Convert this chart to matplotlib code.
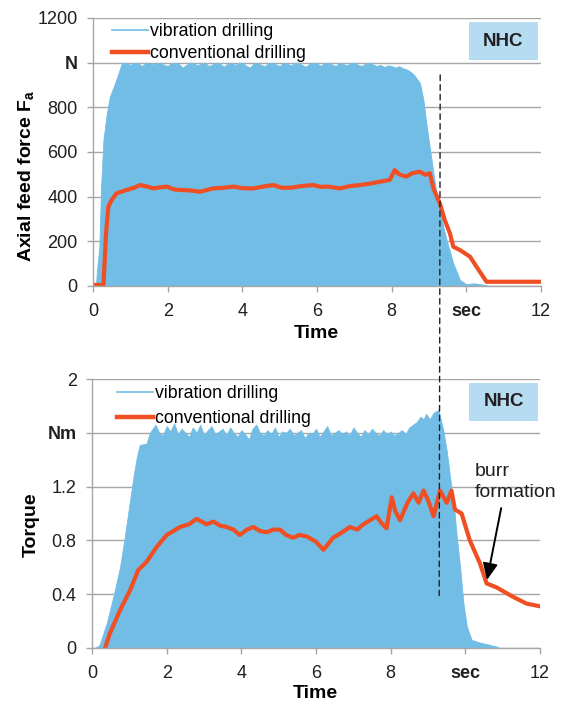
import matplotlib
matplotlib.use("Agg")
import matplotlib.pyplot as plt
from matplotlib.lines import Line2D
from matplotlib.patches import ConnectionPatch, Rectangle

plt.rcParams['font.family'] = ['Liberation Sans', 'DejaVu Sans']
plt.rcParams['mathtext.fontset'] = 'custom'
plt.rcParams['mathtext.rm'] = 'Liberation Sans'
plt.rcParams['mathtext.bf'] = 'Liberation Sans:bold'

# ---------------- data ----------------
# Axial feed force - vibration drilling (upper envelope of oscillating signal)
force_vib_rise_t = [0.0, 0.08, 0.1, 0.17, 0.215, 0.28, 0.37, 0.45, 0.59, 0.68, 0.77]
force_vib_rise = [0, 0, 57, 176, 437, 654, 773, 848, 908, 952, 997]
# plateau sampled every 0.1 s from 0.8 s to 8.6 s
force_vib_plateau = [995, 1000, 990, 998, 1000, 985, 996, 1000, 992, 998,
                     1000, 990, 985, 998, 1000, 994, 978, 990, 1000, 996,
                     988, 998, 1000, 985, 992, 1000, 996, 982, 994, 1000,
                     990, 998, 1000, 986, 978, 995, 1000, 990, 984, 998,
                     1000, 992, 985, 1000, 996, 988, 998, 1000, 990, 982,
                     995, 1000, 996, 986, 998, 1000, 992, 985, 1000, 994,
                     988, 998, 1000, 990, 985, 996, 1000, 992, 985, 990,
                     980, 988, 985, 978, 984, 975, 970, 960, 945]
force_vib_fall_t = [8.76, 8.85, 8.94, 9.03, 9.12, 9.2, 9.29, 9.38, 9.47, 9.65,
                    9.83, 10.0, 10.2, 10.5, 10.6]
force_vib_fall = [908, 833, 713, 609, 505, 415, 355, 266, 206, 102,
                  27, 8, 12, 5, 0]

# Axial feed force - conventional drilling
force_conv_t = [0.0, 0.28, 0.35, 0.41, 0.5, 0.63, 0.9, 1.1, 1.26, 1.45, 1.62,
                1.8, 1.98, 2.15, 2.33, 2.6, 2.87, 3.05, 3.22, 3.5, 3.77, 4.0,
                4.3, 4.55, 4.83, 5.05, 5.3, 5.6, 5.9, 6.1, 6.3, 6.61, 6.9,
                7.15, 7.4, 7.68, 7.95, 8.08, 8.2, 8.39, 8.55, 8.75, 8.9, 9.02,
                9.12, 9.29, 9.42, 9.56, 9.65, 9.83, 10.1, 10.27, 10.54, 11.25,
                12.0]
force_conv = [5, 5, 236, 355, 385, 415, 430, 440, 452, 445, 437,
              442, 445, 433, 430, 428, 422, 430, 437, 440, 445, 438,
              437, 445, 452, 440, 440, 448, 452, 444, 445, 437, 448,
              452, 458, 467, 475, 519, 500, 490, 505, 512, 498, 505,
              437, 370, 296, 236, 176, 161, 131, 87, 19, 19, 19]

# Torque - vibration drilling (upper envelope)
torque_vib_rise_t = [0.0, 0.08, 0.2, 0.39, 0.57, 0.75, 0.88, 1.02, 1.11, 1.2,
                     1.28, 1.46, 1.55]
torque_vib_rise = [0, 0, 0.022, 0.18, 0.38, 0.6, 0.83, 1.1, 1.27, 1.42,
                   1.51, 1.52, 1.6]
# plateau sampled every 0.1 s from 1.6 s to 8.6 s
torque_vib_plateau = [1.62, 1.66, 1.60, 1.58, 1.65, 1.61, 1.67, 1.59, 1.63, 1.60,
                      1.57, 1.64, 1.60, 1.66, 1.58, 1.62, 1.65, 1.59, 1.61, 1.63,
                      1.58, 1.64, 1.60, 1.57, 1.62, 1.59, 1.55, 1.63, 1.66, 1.60,
                      1.58, 1.62, 1.59, 1.64, 1.57, 1.61, 1.60, 1.63, 1.58, 1.60,
                      1.62, 1.56, 1.60, 1.59, 1.63, 1.57, 1.61, 1.65, 1.58, 1.60,
                      1.62, 1.59, 1.61, 1.58, 1.64, 1.60, 1.57, 1.62, 1.59, 1.63,
                      1.60, 1.58, 1.62, 1.59, 1.61, 1.58, 1.60, 1.62, 1.59, 1.64,
                      1.66]
torque_vib_fall_t = [8.7, 8.8, 8.88, 8.95, 9.05, 9.15, 9.28, 9.41, 9.5, 9.59,
                     9.68, 9.77, 9.86, 9.95, 10.04, 10.17, 10.4, 10.85, 10.9]
torque_vib_fall = [1.68, 1.72, 1.70, 1.74, 1.70, 1.75, 1.77, 1.62, 1.47, 1.27,
                   1.10, 0.83, 0.60, 0.33, 0.16, 0.06, 0.04, 0.01, 0.0]

# Torque - conventional drilling
torque_conv_t = [0.35, 0.48, 0.75, 1.02, 1.24, 1.46, 1.73, 2.0, 2.36, 2.6, 2.8,
                 3.07, 3.25, 3.43, 3.6, 3.79, 3.96, 4.15, 4.32, 4.5, 4.68, 4.85,
                 5.04, 5.2, 5.39, 5.55, 5.75, 6.0, 6.2, 6.46, 6.7, 6.91, 7.1,
                 7.27, 7.45, 7.62, 7.75, 7.89, 8.03, 8.12, 8.25, 8.45, 8.61,
                 8.75, 8.88, 9.0, 9.15, 9.32, 9.5, 9.63, 9.72, 9.9, 10.12,
                 10.39, 10.57, 10.84, 11.28, 11.64, 12.0]
torque_conv = [0.0, 0.11, 0.28, 0.43, 0.58, 0.64, 0.75, 0.84, 0.9, 0.92, 0.96,
               0.92, 0.94, 0.91, 0.9, 0.88, 0.84, 0.88, 0.9, 0.87, 0.86, 0.88,
               0.88, 0.84, 0.82, 0.84, 0.83, 0.79, 0.73, 0.82, 0.86, 0.9, 0.88,
               0.92, 0.95, 0.98, 0.93, 0.89, 1.12, 1.02, 0.95, 1.08, 1.15,
               1.08, 1.17, 1.1, 0.98, 1.17, 1.08, 1.17, 1.03, 1.0, 0.8,
               0.63, 0.48, 0.45, 0.38, 0.33, 0.31]

x_ticks = [0, 2, 4, 6, 8, 10, 12]
x_ticklabels = ['0', '2', '4', '6', '8', 'sec', '12']
force_ticks = [0, 200, 400, 600, 800, 1000, 1200]
force_ticklabels = ['0', '200', '400', '600', '800', 'N', '1200']
torque_ticks = [0, 0.4, 0.8, 1.2, 1.6, 2.0]
torque_ticklabels = ['0', '0.4', '0.8', '1.2', 'Nm', '2']
legend_labels = ['vibration drilling', 'conventional drilling']

# assemble envelopes
force_vib_t = force_vib_rise_t + [round(0.8 + 0.1 * i, 2) for i in range(len(force_vib_plateau))] + force_vib_fall_t
force_vib_hi = force_vib_rise + force_vib_plateau + force_vib_fall
torque_vib_t = torque_vib_rise_t + [round(1.6 + 0.1 * i, 2) for i in range(len(torque_vib_plateau))] + torque_vib_fall_t
torque_vib_hi = torque_vib_rise + torque_vib_plateau + torque_vib_fall

BLUE = '#72BDE5'
ORANGE = '#F04E23'
GRID = '#A6A6A6'
BOXC = '#B6DCF1'
TXT = '#231f20'

fig = plt.figure(figsize=(5.66, 7.02), dpi=100)
ax1 = fig.add_axes([93/566, 1-286/702, 448/566, 268/702])
ax2 = fig.add_axes([92/566, 1-648/702, 448/566, 269/702])


def style(ax, yticks, ylabels, ylim, boldlabel):
    ax.set_xlim(0, 12)
    ax.set_ylim(*ylim)
    ax.set_xticks(x_ticks)
    ax.set_xticklabels(x_ticklabels)
    ax.set_yticks(yticks)
    ax.set_yticklabels(ylabels)
    for lab in ax.get_xticklabels():
        if lab.get_text() == 'sec':
            lab.set_fontweight('bold')
    for lab in ax.get_yticklabels():
        if lab.get_text() == boldlabel:
            lab.set_fontweight('bold')
    ax.tick_params(axis='both', labelsize=13, colors=GRID, labelcolor=TXT,
                   length=4.5, width=1)
    ax.tick_params(axis='x', pad=7.5)
    ax.tick_params(axis='y', pad=6.5)
    ax.grid(axis='y', color=GRID, lw=1)
    ax.set_axisbelow(True)
    for s in ['top', 'right']:
        ax.spines[s].set_visible(False)
    for s in ['left', 'bottom']:
        ax.spines[s].set_color(GRID)
        ax.spines[s].set_linewidth(1)


# Top panel
ax1.fill_between(force_vib_t, 0, force_vib_hi, color=BLUE, lw=0.6, edgecolor=BLUE)
ax1.plot(force_conv_t, force_conv, color=ORANGE, lw=3, solid_joinstyle='round')
style(ax1, force_ticks, force_ticklabels, (0, 1200), 'N')
ax1.set_ylabel(r'Axial feed force $\mathbf{F_a}$', fontsize=14, fontweight='bold')
ax1.yaxis.set_label_coords(-0.127, 0.41)
ax1.set_xlabel('Time', fontsize=14, fontweight='bold')
ax1.xaxis.set_label_coords(0.498, -0.146)

# Bottom panel
ax2.fill_between(torque_vib_t, 0, torque_vib_hi, color=BLUE, lw=0.6, edgecolor=BLUE)
ax2.plot(torque_conv_t, torque_conv, color=ORANGE, lw=3, solid_joinstyle='round')
style(ax2, torque_ticks, torque_ticklabels, (0, 2), 'Nm')
ax2.set_ylabel('Torque', fontsize=14, fontweight='bold')
ax2.yaxis.set_label_coords(-0.116, 0.46)
ax2.set_xlabel('Time', fontsize=14, fontweight='bold')
ax2.xaxis.set_label_coords(0.498, -0.138)

handles = [Line2D([], [], color=BLUE, lw=1.2), Line2D([], [], color=ORANGE, lw=3.2)]
for ax, x0, y0, sp in ((ax1, 0.043, 0.982, 0.30), (ax2, 0.056, 0.978, 0.48)):
    ax.legend(handles, legend_labels, loc='upper left', bbox_to_anchor=(x0, y0),
              frameon=False, fontsize=12.8, handlelength=2.0, handletextpad=0.15,
              labelspacing=sp, borderaxespad=0, borderpad=0)

# NHC boxes
for ax, (x0, x1, y0, y1) in ((ax1, (0.839, 0.993, 0.843, 0.985)),
                             (ax2, (0.842, 0.996, 0.844, 0.985))):
    ax.add_patch(Rectangle((x0, y0), x1 - x0, y1 - y0, transform=ax.transAxes,
                           facecolor=BOXC, edgecolor='none', zorder=3))
    ax.text((x0 + x1) / 2, (y0 + y1) / 2, 'NHC', transform=ax.transAxes,
            ha='center', va='center', fontsize=13.5, fontweight='bold',
            color=TXT, zorder=4)

# burr formation annotation
ax2.text(10.25, 1.235, 'burr\nformation', fontsize=14, color=TXT,
         ha='left', va='center', linespacing=1.3)
ax2.annotate('', xy=(10.58, 0.506), xytext=(10.96, 1.04),
             arrowprops=dict(arrowstyle='-|>,head_length=1.0,head_width=0.45',
                             color='black', lw=1.4, shrinkA=0, shrinkB=0))

# dashed vertical line across both panels
con = ConnectionPatch(xyA=(9.3, 945), coordsA=ax1.transData,
                      xyB=(9.3, 0.39), coordsB=ax2.transData,
                      color=TXT, lw=1, linestyle=(0, (4, 3)), zorder=5)
fig.add_artist(con)

fig.savefig('out.png', dpi=100)
